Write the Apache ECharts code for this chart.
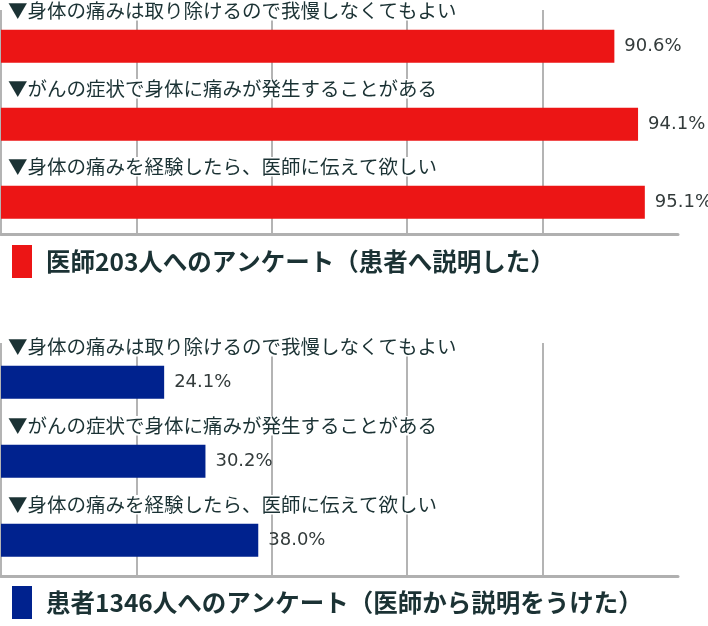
<!DOCTYPE html>
<html>
<head>
<meta charset="utf-8">
<script src="https://cdn.jsdelivr.net/npm/echarts@6/dist/echarts.min.js"></script>
<style>
html,body{margin:0;padding:0;background:#fff;}
#chart{width:708px;height:626px;}
</style>
</head>
<body>
<div id="chart"></div>
<script>
const categories = [
  '▼身体の痛みは取り除けるので我慢しなくてもよい',
  '▼がんの症状で身体に痛みが発生することがある',
  '▼身体の痛みを経験したら、医師に伝えて欲しい'
];
const doctorValues = [90.6, 94.1, 95.1];
const patientValues = [24.1, 30.2, 38.0];
const doctorName = '医師203人へのアンケート（患者へ説明した）';
const patientName = '患者1346人へのアンケート（医師から説明をうけた）';
const axisMin = 0;
const axisMax = 100;
const axisInterval = 20;

const JP = '"Noto Sans CJK JP", "Noto Sans", sans-serif';
const TEXT = '#1b3234';
const GRID_COLOR = '#b4b4b4';

function lineX(gi) {
  return {
    gridIndex: gi, type: 'value', min: axisMin, max: axisMax, interval: axisInterval,
    axisLine: { show: true, lineStyle: { color: '#b0b0b0', width: 3 } },
    axisTick: { show: false }, axisLabel: { show: false },
    splitLine: { show: true, showMinLine: true, showMaxLine: false, lineStyle: { color: GRID_COLOR, width: 2 } }
  };
}
function barX(gi) {
  return { gridIndex: gi, type: 'value', min: axisMin, max: axisMax, interval: axisInterval, show: false };
}
function barY(gi) {
  return {
    gridIndex: gi, type: 'category', inverse: true, data: categories, z: 5,
    axisLine: { show: false }, axisTick: { show: false }, splitLine: { show: false },
    axisLabel: {
      show: true, inside: true, interval: 0, margin: 7, align: 'left', verticalAlign: 'middle',
      padding: [0, 0, 71, 0],
      formatter: v => '{t|' + v + '}',
      rich: { t: { fontSize: 19.5, lineHeight: 20, fontFamily: JP, color: TEXT, backgroundColor: '#fff' } }
    }
  };
}
function legend(name, top) {
  return {
    data: [name], left: 7, top: top, orient: 'horizontal', icon: 'rect',
    itemWidth: 20, itemHeight: 33, selectedMode: false,
    textStyle: { fontSize: 24.5, fontWeight: 'bold', fontFamily: JP, color: TEXT, padding: [0, 0, 0, 9] }
  };
}
function barSeries(name, values, color, axisIdx) {
  return {
    name: name, type: 'bar', xAxisIndex: axisIdx, yAxisIndex: axisIdx,
    data: values, barWidth: 33, itemStyle: { color: color },
    label: {
      show: true, position: 'right', distance: 10,
      formatter: p => p.value.toFixed(1) + '%',
      fontSize: 18, fontFamily: '"DejaVu Sans", sans-serif', color: '#333b3b'
    }
  };
}

const chart = echarts.init(document.getElementById('chart'));
chart.setOption({
  backgroundColor: '#fff',
  animation: false,
  grid: [
    { left: 1, top: 10, width: 677, height: 224 },
    { left: 1, top: 7.2, width: 677, height: 234 },
    { left: 1, top: 343, width: 677, height: 233 },
    { left: 1, top: 342.7, width: 677, height: 237 }
  ],
  xAxis: [lineX(0), barX(1), lineX(2), barX(3)],
  yAxis: [
    { gridIndex: 0, type: 'value', show: false },
    barY(1),
    { gridIndex: 2, type: 'value', show: false },
    barY(3)
  ],
  legend: [legend(doctorName, 240), legend(patientName, 581)],
  series: [
    barSeries(doctorName, doctorValues, '#ec1515', 1),
    barSeries(patientName, patientValues, '#00228e', 3)
  ]
});
</script>
</body>
</html>
